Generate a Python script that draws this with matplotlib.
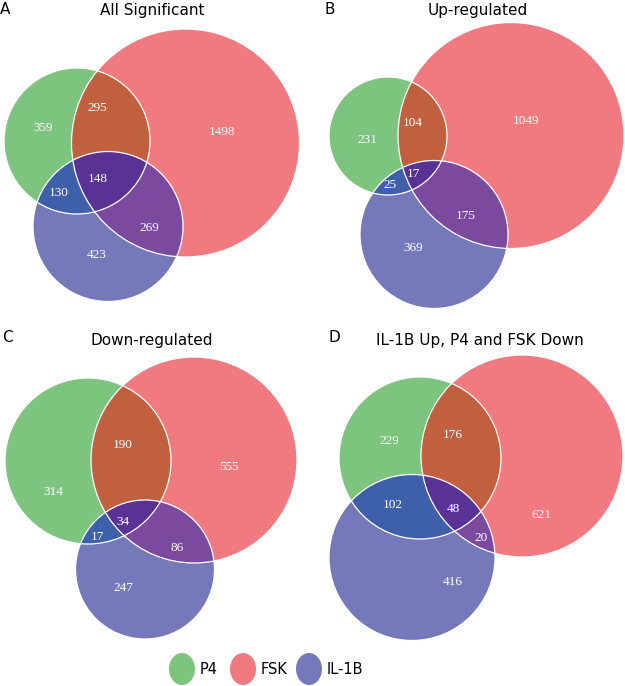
import numpy as np
import matplotlib
matplotlib.use('Agg')
import matplotlib.pyplot as plt
from matplotlib.patches import Circle, Polygon, Ellipse

# set names and colours
sets = ["P4", "FSK", "IL-1B"]
panel_letters = ["A", "B", "C", "D"]
panel_titles = ["All Significant", "Up-regulated", "Down-regulated",
                "IL-1B Up, P4 and FSK Down"]

# region counts: P4 only, FSK only, IL-1B only, P4&FSK, P4&IL-1B, FSK&IL-1B, all
counts_a = [359, 1498, 423, 295, 130, 269, 148]
counts_b = [231, 1049, 369, 104, 25, 175, 17]
counts_c = [314, 555, 247, 190, 17, 86, 34]
counts_d = [229, 621, 416, 176, 102, 20, 48]
all_counts = [counts_a, counts_b, counts_c, counts_d]

# colours
base_colors = ["#7dc47f", "#f07a7f", "#7579ba"]
pair_colors = {(0, 1): "#c0603f", (0, 2): "#3e5faa", (1, 2): "#7b4a9e"}
triple_color = "#5a3296"

# circle layout per panel in pixel coords: (cx, cy, r) for P4, FSK, IL-1B
layout = [
    [(77, 141, 73), (185.5, 143, 114), (108, 226.5, 75)],
    [(388, 136, 59), (511, 135.5, 113), (434, 234.5, 74)],
    [(88, 461, 83), (194, 460, 103), (145, 569.5, 69.5)],
    [(420, 458, 81), (522, 456, 101), (412, 557.5, 83)],
]
# label positions per region (same order as counts)
label_pos = [
    [(43, 128), (222, 132), (97, 255), (97, 108), (59, 193), (149, 228), (98, 179)],
    [(367, 140), (526, 121), (413, 248), (413, 123), (390, 185), (466, 216), (413, 174)],
    [(53, 492), (229, 467), (123, 588), (123, 445), (97, 537), (177, 548), (123, 522)],
    [(389, 441), (541, 515), (453, 582), (453, 435), (393, 505), (481, 538), (453, 509)],
]
title_pos = [(152, 10), (478, 10), (152, 340), (480, 340)]
letter_pos = [(0, 10), (325, 10), (2, 337), (328, 337)]


def intersection_poly(circles, n=1440):
    # convex intersection of discs, as polygon points
    pts = []
    for i, (cx, cy, r) in enumerate(circles):
        t = np.linspace(0, 2 * np.pi, n, endpoint=False)
        x = cx + r * np.cos(t)
        y = cy + r * np.sin(t)
        keep = np.ones(n, dtype=bool)
        for j, (ox, oy, orad) in enumerate(circles):
            if j != i:
                keep &= (x - ox) ** 2 + (y - oy) ** 2 <= orad ** 2 + 1e-6
        pts.append(np.column_stack([x[keep], y[keep]]))
    pts = np.vstack(pts)
    c = pts.mean(axis=0)
    ang = np.arctan2(pts[:, 1] - c[1], pts[:, 0] - c[0])
    return pts[np.argsort(ang)]


fig = plt.figure(figsize=(6.25, 6.86), dpi=100)
ax = fig.add_axes([0, 0, 1, 1])
ax.set_xlim(0, 625)
ax.set_ylim(686, 0)
ax.axis('off')

num_font = dict(family="Liberation Serif", fontsize=9.5, color="white",
                ha="center", va="center")

for p in range(4):
    circles = layout[p]
    for k in range(3):
        ax.add_patch(Circle(circles[k][:2], circles[k][2], facecolor=base_colors[k],
                            edgecolor="none", zorder=1))
    for (a, b), col in pair_colors.items():
        poly = intersection_poly([circles[a], circles[b]])
        ax.add_patch(Polygon(poly, closed=True, facecolor=col, edgecolor="none", zorder=2))
    poly = intersection_poly(circles)
    ax.add_patch(Polygon(poly, closed=True, facecolor=triple_color, edgecolor="none", zorder=3))
    for k in range(3):
        ax.add_patch(Circle(circles[k][:2], circles[k][2], facecolor="none",
                            edgecolor="white", lw=0.9, zorder=4))
    for val, (x, y) in zip(all_counts[p], label_pos[p]):
        ax.text(x, y, str(val), zorder=5, **num_font)
    ax.text(*title_pos[p], panel_titles[p], fontsize=11, ha="center", va="center",
            family="DejaVu Sans")
    ax.text(*letter_pos[p], panel_letters[p], fontsize=11, ha="left", va="center",
            family="DejaVu Sans")

# legend
leg_x = [182, 243, 309]
for k, name in enumerate(sets):
    ax.add_patch(Ellipse((leg_x[k], 669), 26, 32, facecolor=base_colors[k], edgecolor="none"))
    ax.text(leg_x[k] + 18, 669, name, fontsize=10.5, ha="left", va="center",
            family="DejaVu Sans")

fig.savefig("out.png", dpi=100)
